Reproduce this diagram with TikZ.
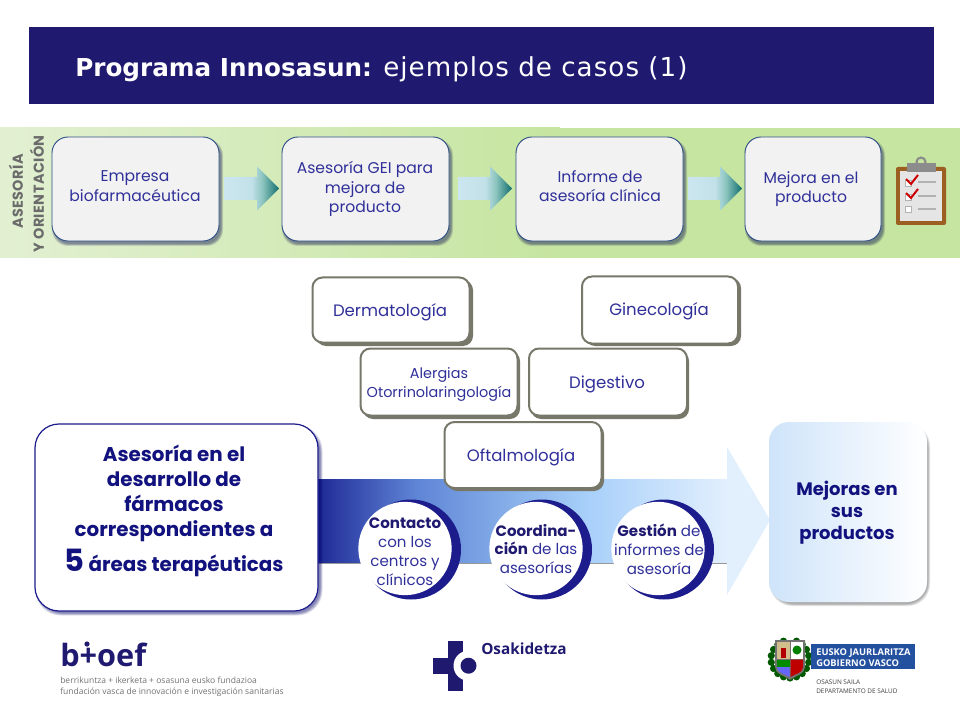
\documentclass[tikz,border=0pt]{standalone}
\usepackage{fontspec}
\setmainfont{Poppins}
\newfontfamily\titlefont{DejaVu Sans}
\newfontfamily\logofont{Open Sans}
\usetikzlibrary{calc}
\definecolor{navy}{HTML}{1F1A70}
\definecolor{leadblue}{HTML}{12127F}
\definecolor{inktext}{HTML}{30309A}
\definecolor{deepblue}{HTML}{1C1C8C}
\definecolor{boxedge}{HTML}{2F4F86}
\definecolor{greyedge}{HTML}{77776A}
\definecolor{bandA}{HTML}{1F2A96}
\definecolor{bandB}{HTML}{5F85D6}
\definecolor{bandC}{HTML}{85AEE8}
\definecolor{bandD}{HTML}{A8D0FA}
\definecolor{bandE}{HTML}{E2EFFD}
\definecolor{greenA}{HTML}{E2F0D2}
\definecolor{greenB}{HTML}{C6E5A0}
\definecolor{arrowA}{HTML}{CCE6F0}
\definecolor{arrowM}{HTML}{8CC4BE}
\definecolor{arrowB}{HTML}{0F6E6E}
\definecolor{brownclip}{HTML}{9C5F22}
\definecolor{tanshield}{HTML}{D2BE8C}
\definecolor{govblue}{HTML}{2450A0}
\definecolor{resA}{HTML}{CFE4FA}
\definecolor{resB}{HTML}{FFFFFF}
\pgfdeclarehorizontalshading{bandshade}{100bp}{color(0bp)=(bandA); color(25bp)=(bandA); color(37bp)=(bandB); color(48bp)=(bandC); color(58bp)=(bandD); color(75bp)=(bandE); color(100bp)=(bandE)}
\pgfdeclarehorizontalshading{arrowshade}{100bp}{color(0bp)=(arrowA); color(25bp)=(arrowA); color(50bp)=(arrowA!85!arrowM); color(60bp)=(arrowM); color(75bp)=(arrowB); color(100bp)=(arrowB)}
\def\px{0.75pt}
\newcommand{\softshadow}[7]{% x0 y0 x1 y1 radius spread colour
  \foreach \i in {0,...,#6}{
    \fill[#7,opacity=.10,rounded corners=#5*\px]
      (#1-\i*0.5,#2-\i*0.5) rectangle (#3+\i*0.5,#4+\i*0.5);
  }}
\newcommand{\blockarrow}[3]{% x0 xhead ymid
  \shade[shading=arrowshade]
    (#1,#3-11.5) -- (#2,#3-11.5) -- (#2,#3-22) -- (#2+22,#3) -- (#2,#3+22) -- (#2,#3+11.5) -- (#1,#3+11.5) -- cycle;}
\tikzset{
  x=0.75pt,y=-0.75pt,
  flowbox/.style={draw=boxedge,line width=0.7pt,fill=black!5,rounded corners=12pt,inner sep=0pt},
  areabox/.style={draw=greyedge,line width=1.5pt,fill=white,rounded corners=7.5pt,inner sep=0pt},
  flowtext/.style={text=inktext,align=center,inner sep=0pt,font=\fontsize{11.7}{14.6}\selectfont},
  areatext/.style={text=inktext,align=center,inner sep=0pt,font=\fontsize{12.4}{14.3}\selectfont},
  circletext/.style={text=inktext,align=center,inner sep=0pt,font=\fontsize{11.3}{14.2}\selectfont},
  leadtext/.style={text=leadblue,align=center,inner sep=0pt,font=\bfseries\fontsize{14.9}{18.9}\selectfont},
  disc/.style={circle,fill=white,inner sep=0pt,minimum size=70pt},
  discback/.style={circle,fill=deepblue,inner sep=0pt,minimum size=75pt},
  sidetext/.style={text=black!58,inner sep=0pt,rotate=90,font=\bfseries\fontsize{10.8}{11}\selectfont\addfontfeatures{LetterSpace=3}},
  bluelogo/.style={fill=navy,draw=none},
  smalllogo/.style={text=black!55,inner sep=0pt,anchor=base west,font=\logofont\fontsize{6.4}{7}\selectfont},
}
\begin{document}
\begin{tikzpicture}
\useasboundingbox (0,0) rectangle (960,720);
\fill[white] (0,0) rectangle (960,720);
% header
\fill[navy] (29,27) rectangle (934,104);
\node[anchor=base west,text=white,inner sep=0pt] (title) at (75,77)
  {\titlefont\fontsize{18.5}{22}\selectfont\bfseries Programa Innosasun:};
\node[anchor=base west,text=white,inner sep=0pt] (subtitle) at (383,77)
  {\titlefont\fontsize{19.6}{22}\selectfont\addfontfeatures{LetterSpace=4}ejemplos de casos (1)};
% green band
\shade[left color=greenA,right color=greenB] (0,128) rectangle (560,258);
\fill[greenB] (559,128) rectangle (960,258);
\node[sidetext] (side1) at (16,191.5) {ASESORÍA};
\node[sidetext] (side2) at (37,194) {Y ORIENTACIÓN};
% flow shadows
\softshadow{54}{141}{221}{244}{16}{4}{black!70!blue}
\softshadow{284}{141}{451}{244}{16}{4}{black!70!blue}
\softshadow{518}{141}{685}{244}{16}{4}{black!70!blue}
\softshadow{747}{141}{883}{244}{16}{4}{black!70!blue}
% flow boxes
\node[flowbox,minimum width=167*\px,minimum height=104*\px] (b1) at (135.5,189) {};
\node[flowbox,minimum width=167*\px,minimum height=104*\px] (b2) at (365.5,189) {};
\node[flowbox,minimum width=167*\px,minimum height=104*\px] (b3) at (599.5,189) {};
\node[flowbox,minimum width=136*\px,minimum height=104*\px] (b4) at (813,189) {};
\node[flowtext] (b1t) at (135,186) {Empresa\\biofarmacéutica};
\node[flowtext] (b2t) at (365,189) {Asesoría GEI para\\mejora de\\producto};
\node[flowtext] (b3t) at (600,186) {Informe de\\asesoría clínica};
\node[flowtext] (b4t) at (811,189) {Mejora en el\\producto};
% block arrows
\blockarrow{224}{257}{188.5}
\blockarrow{458}{490}{188.5}
\blockarrow{688}{720}{188.5}
% clipboard
\fill[rounded corners=1.5pt,fill=brownclip] (896,167) rectangle (946,225);
\fill[black!10] (900,171) rectangle (942,221);
\draw[black!45,line width=1.6pt] (921,162) circle (4.5);
\fill[black!45] (907,163) rectangle (936,172);
\foreach \yy in {182,196,209}{\draw[black!30,line width=0.8pt] (918,\yy) -- (936,\yy);}
\foreach \yy in {183,197,209}{\filldraw[draw=black!30,fill=white,line width=0.4pt] (905,\yy-3) rectangle (911,\yy+3);}
\draw[red!80!black,line width=1.5pt] (906,179) -- (911,184) -- (918,175);
\draw[red!80!black,line width=1.5pt] (906,193) -- (911,198) -- (918,189);
% band and big arrow
\shade[shading=bandshade] (318,479) rectangle (727,563);
\draw[black!40,line width=0.6pt] (318,563) -- (727,563);
\fill[bandE] (727,447) -- (770,520) -- (727,595) -- cycle;
% area boxes
\fill[greyedge,rounded corners=7.5pt] (316,280) rectangle (473,346);
\fill[greyedge,rounded corners=7.5pt] (585,278) rectangle (741,346);
\fill[greyedge,rounded corners=7.5pt] (363,351) rectangle (520,419);
\fill[greyedge,rounded corners=7.5pt] (531,351) rectangle (689,419);
\fill[greyedge,rounded corners=7.5pt] (447,424) rectangle (604,491);
\node[areabox,minimum width=157*\px,minimum height=65*\px] (a1) at (391,310) {};
\node[areabox,minimum width=156*\px,minimum height=67*\px] (a2) at (660,310) {};
\node[areabox,minimum width=157*\px,minimum height=67*\px] (a3) at (439,382) {};
\node[areabox,minimum width=158*\px,minimum height=67*\px] (a4) at (608,382) {};
\node[areabox,minimum width=157*\px,minimum height=66*\px] (a5) at (523,455) {};
\node[areatext] (a1t) at (390,312) {Dermatología};
\node[areatext] (a2t) at (659,311) {Ginecología};
\node[areatext,font=\fontsize{10.8}{14.3}\selectfont] (a3t) at (439,384) {Alergias\\Otorrinolaringología};
\node[areatext] (a4t) at (607,384) {Digestivo};
\node[areatext] (a5t) at (521,457) {Oftalmología};
% lead box
\softshadow{38}{428}{320}{613}{25}{5}{black!60!blue}
\node[draw=deepblue,line width=0.9pt,fill=white,rounded corners=18pt,minimum width=283*\px,minimum height=187*\px,inner sep=0pt] (lead) at (176.5,517.5) {};
\node[leadtext] (leadt) at (174,510.5) {Asesoría en el\\desarrollo de\\fármacos\\correspondientes  a\\[4pt]{\fontsize{23}{20}\selectfont 5} áreas terapéuticas};
% result box
\softshadow{772}{426}{928}{604}{22}{4}{black!75}
\node[rounded corners=15pt,minimum width=158*\px,minimum height=180*\px,inner sep=0pt,left color=resA,right color=resB] (res) at (848,512) {};
\node[leadtext,font=\bfseries\fontsize{13.5}{16.5}\selectfont] (rest) at (847,513) {Mejoras en\\sus\\productos};
% circles
\node[discback] (c1b) at (411,549.5) {};
\node[discback] (c2b) at (542,549.5) {};
\node[discback] (c3b) at (664,549.5) {};
\node[disc] (c1) at (405,548.5) {};
\node[disc] (c2) at (536,548.5) {};
\node[disc] (c3) at (658,548.5) {};
\node[circletext] (c1t) at (405,552) {{\bfseries\color{navy}Contacto}\\con los\\centros y\\clínicos};
\node[circletext] (c2t) at (536,549) {{\bfseries\color{navy}Coordina-}\\{\bfseries\color{navy}ción} de las\\asesorías};
\node[circletext] (c3t) at (659,549) {{\bfseries\color{navy}Gestión} de\\informes de\\asesoría};
% bioef logo
\node[anchor=base west,text=navy,inner sep=0pt] (bioef) at (60,666) {\logofont\bfseries\fontsize{23}{25}\selectfont b+oef};
\fill[bluelogo] (87,644) circle (2.6);
\node[smalllogo] (bio1) at (60,683) {berrikuntza + ikerketa + osasuna eusko fundazioa};
\node[smalllogo] (bio2) at (60,694) {fundación vasca de innovación e investigación sanitarias};
% Osakidetza logo
\fill[bluelogo] (448,640.5) rectangle (463,690.5);
\fill[bluelogo] (433,658) rectangle (463,674);
\fill[white] (468.5,665.7) circle (15);
\fill[bluelogo] (468.5,665.7) circle (8);
\node[anchor=base west,text=navy,inner sep=0pt] (osa) at (481,654) {\logofont\bfseries\fontsize{11.5}{12}\selectfont Osakidetza};
% Basque government logo
\foreach \a in {20,40,...,340}{\fill[green!35!black] ($(790,659)+(\a-90:19)$) circle (3.6);}
\fill[black!55] (775,640) -- (805,640) -- (805,667) .. controls (805,674) and (795,676) .. (790,680) .. controls (785,676) and (775,674) .. (775,667) -- cycle;
\fill[tanshield] (777,642) rectangle (789.5,659);
\fill[red!70!black] (781,648) rectangle (786,658);
\fill[white] (790.5,642) rectangle (803,659);
\fill[green!50!black] (797,650) circle (4.5);
\fill[green!55!black] (777,659.5) rectangle (789.5,667);
\fill[blue!60!white] (777,667) -- (789.5,667) -- (789.5,677) .. controls (785,674) and (777,673) .. (777,667) -- cycle;
\fill[red!75!black] (790.5,659.5) -- (803,659.5) -- (803,667) .. controls (803,673) and (795,674) .. (790.5,677) -- cycle;
\fill[govblue] (811,644) rectangle (915,669);
\node[anchor=base west,text=white,inner sep=0pt] (gov1) at (816,655.5) {\logofont\bfseries\fontsize{7}{8}\selectfont EUSKO JAURLARITZA};
\node[anchor=base west,text=white,inner sep=0pt] (gov2) at (816,666) {\logofont\bfseries\fontsize{7}{8}\selectfont GOBIERNO VASCO};
\node[anchor=base west,text=black!75,inner sep=0pt] (gov3) at (816,684.5) {\logofont\fontsize{4.8}{6}\selectfont OSASUN SAILA};
\node[anchor=base west,text=black!75,inner sep=0pt] (gov4) at (816,693) {\logofont\fontsize{4.8}{6}\selectfont DEPARTAMENTO DE SALUD};
\end{tikzpicture}
\end{document}
